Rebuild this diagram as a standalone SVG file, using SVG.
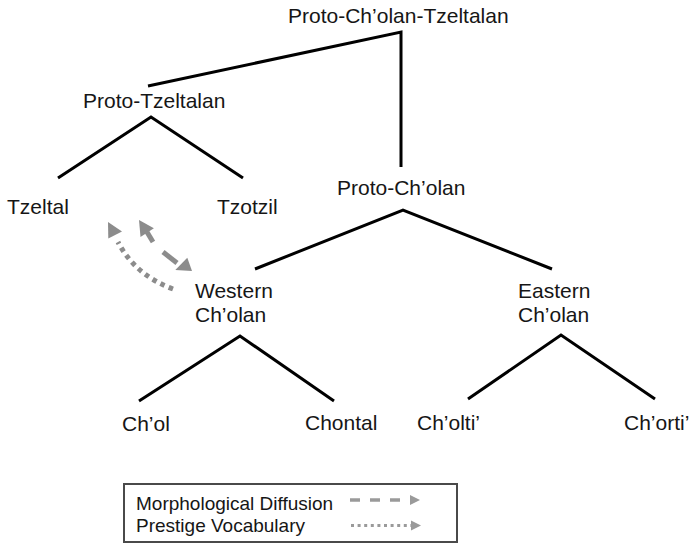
<svg xmlns="http://www.w3.org/2000/svg" width="689" height="545" viewBox="0 0 689 545">
<style>
.t{font-family:"Liberation Sans",Arial,sans-serif;font-size:21px;fill:#161616}
.lg{font-family:"Liberation Sans",Arial,sans-serif;font-size:19px;fill:#161616}
.br{fill:none;stroke:#000;stroke-width:3;stroke-linejoin:miter}
.ga{fill:#8c8c8c}
.gl{fill:none;stroke:#8c8c8c;stroke-width:5}
.la{fill:#9a9a9a}
</style>
<rect width="689" height="545" fill="#fff"/>
<g id="connectors">
<polyline class="br" points="148,86 401,32 401,167"/>
<polyline class="br" points="58,178 151,117 243,178"/>
<polyline class="br" points="255,269 403,210 552,269"/>
<polyline class="br" points="139,401 240,336 334,401"/>
<polyline class="br" points="468,399 561,335 655,399"/>
<g id="morph-diffusion">
<polygon class="ga" points="139,220 140.5,237 153.9,228.2"/>
<line class="gl" x1="147" y1="232" x2="153" y2="242"/>
<line class="gl" x1="163" y1="252" x2="177" y2="263"/>
<polygon class="ga" points="192,271 175.3,270 187.3,257.7"/>
</g>
<g id="prestige-vocab">
<path class="gl" d="M173,289 Q135,275 118,242" stroke-dasharray="4.5 4.5"/>
<polygon class="ga" points="108,222 108.3,238.5 122,231.5"/>
</g>
</g>
<g id="n-root"><text class="t" x="288" y="23">Proto-Ch’olan-Tzeltalan</text></g>
<g id="n-proto-tzeltalan"><text class="t" x="83" y="108">Proto-Tzeltalan</text></g>
<g id="n-tzeltal"><text class="t" x="7" y="214">Tzeltal</text></g>
<g id="n-tzotzil"><text class="t" x="217" y="214">Tzotzil</text></g>
<g id="n-proto-cholan"><text class="t" x="337" y="195">Proto-Ch’olan</text></g>
<g id="n-western"><text class="t" x="195" y="298">Western</text><text class="t" x="195" y="322">Ch’olan</text></g>
<g id="n-eastern"><text class="t" x="518" y="298">Eastern</text><text class="t" x="518" y="322">Ch’olan</text></g>
<g id="n-chol"><text class="t" x="122" y="431">Ch’ol</text></g>
<g id="n-chontal"><text class="t" x="305" y="430">Chontal</text></g>
<g id="n-cholti"><text class="t" x="417" y="430">Ch’olti’</text></g>
<g id="n-chorti"><text class="t" x="624" y="430">Ch’orti’</text></g>
<g id="legend">
<rect x="124" y="484" width="333" height="58" fill="#fff" stroke="#4a4a4a" stroke-width="2"/>
<text class="lg" x="136" y="510">Morphological Diffusion</text>
<text class="lg" x="136" y="532">Prestige Vocabulary</text>
<line x1="350" y1="500" x2="411" y2="500" stroke="#9a9a9a" stroke-width="3.5" stroke-dasharray="10 10"/>
<polygon class="la" points="420,500 410,495 410,505"/>
<line x1="351" y1="525.5" x2="411" y2="525.5" stroke="#9a9a9a" stroke-width="3" stroke-dasharray="3 3.6"/>
<polygon class="la" points="421,525.5 411,520.5 411,530.5"/>
</g>
</svg>
